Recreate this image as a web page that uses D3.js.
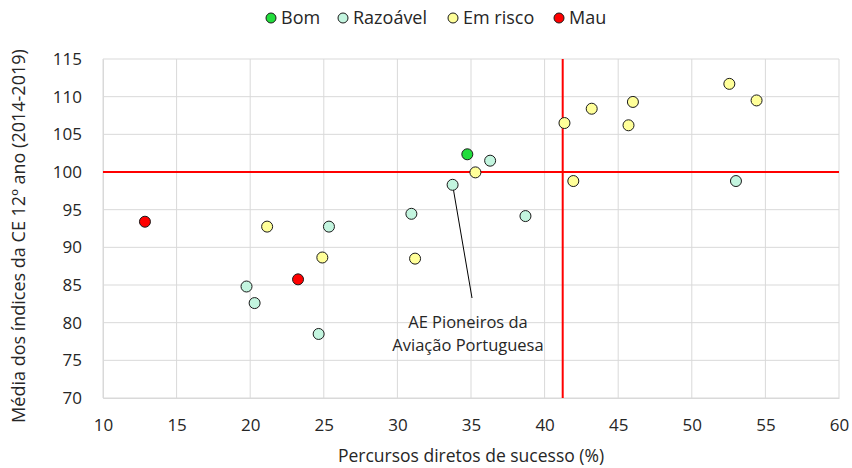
<!DOCTYPE html>
<html>
<head>
<meta charset="utf-8">
<script src="https://cdn.jsdelivr.net/npm/d3@7"></script>
<style>
    body { margin: 0; background: #fff; }
    svg text { font-family: "Open Sans", sans-serif; fill: #262626; }
</style>
</head>
<body>
<svg id="chart" width="852" height="468"></svg>
<script>
// categories and their colours
var categories = ["Bom", "Razoável", "Em risco", "Mau"];
var categoryColors = ["#22dd3c", "#c3f5df", "#ffff99", "#ff0000"];

// points per category: [percursos diretos de sucesso (%), média dos índices]
var bomPoints = [[34.75, 102.35]];
var razoavelPoints = [
    [36.3, 101.5], [33.75, 98.3], [30.95, 94.45], [25.35, 92.75], [38.7, 94.15],
    [53.0, 98.8], [19.75, 84.8], [20.3, 82.6], [24.65, 78.5]
];
var emRiscoPoints = [
    [21.15, 92.75], [24.9, 88.65], [31.2, 88.5], [35.3, 99.95], [41.35, 106.5],
    [41.95, 98.8], [43.2, 108.4], [46.0, 109.3], [45.7, 106.2], [52.55, 111.7], [54.4, 109.5]
];
var mauPoints = [[12.85, 93.4], [23.25, 85.75]];

var refX = 41.23;
var refY = 100;

var xTicks = [10, 15, 20, 25, 30, 35, 40, 45, 50, 55, 60];
var yTicks = [70, 75, 80, 85, 90, 95, 100, 105, 110, 115];

var annotationLines = ["AE Pioneiros da", "Aviação Portuguesa"];
var annotatedPoint = [33.75, 98.3];

var svg = d3.select("#chart");

var x = d3.scaleLinear().domain([10, 60]).range([103, 839]);
var y = d3.scaleLinear().domain([70, 115]).range([398, 59]);

// grid
var grid = svg.append("g").attr("class", "grid");
grid.selectAll("line.vx")
    .data(xTicks)
    .enter()
    .append("line")
    .attr("x1", function (d) { return x(d); })
    .attr("x2", function (d) { return x(d); })
    .attr("y1", y(115))
    .attr("y2", y(70))
    .attr("stroke", "#d9d9d9")
    .attr("stroke-width", 1);
grid.selectAll("line.hy")
    .data(yTicks)
    .enter()
    .append("line")
    .attr("x1", x(10))
    .attr("x2", x(60))
    .attr("y1", function (d) { return y(d); })
    .attr("y2", function (d) { return y(d); })
    .attr("stroke", "#d9d9d9")
    .attr("stroke-width", 1);

// axes
var xAxis = svg.append("g")
    .attr("transform", "translate(0," + y(70) + ")")
    .call(d3.axisBottom(x).tickValues(xTicks).tickSize(0).tickPadding(21));
var yAxis = svg.append("g")
    .attr("transform", "translate(" + x(10) + ",0)")
    .call(d3.axisLeft(y).tickValues(yTicks).tickSize(0).tickPadding(21));
[xAxis, yAxis].forEach(function (a) {
    a.select(".domain").attr("stroke", "#d9d9d9");
    a.selectAll("text").attr("font-size", 17).attr("fill", "#262626")
        .style("font-family", "'Open Sans', sans-serif");
});

// reference lines
svg.append("line")
    .attr("x1", x(10)).attr("x2", x(60))
    .attr("y1", y(refY)).attr("y2", y(refY))
    .attr("stroke", "#ff0000").attr("stroke-width", 2);
svg.append("line")
    .attr("x1", x(refX)).attr("x2", x(refX))
    .attr("y1", y(115)).attr("y2", y(70))
    .attr("stroke", "#ff0000").attr("stroke-width", 2);

// annotation
svg.append("line")
    .attr("x1", x(annotatedPoint[0])).attr("y1", y(annotatedPoint[1]))
    .attr("x2", 472).attr("y2", 298)
    .attr("stroke", "#000").attr("stroke-width", 1);
svg.append("text")
    .attr("x", 468).attr("y", 328)
    .attr("text-anchor", "middle")
    .attr("font-size", 16.5)
    .selectAll("tspan")
    .data(annotationLines)
    .enter()
    .append("tspan")
    .attr("x", 468)
    .attr("dy", function (d, i) { return i === 0 ? 0 : 23; })
    .text(function (d) { return d; });

// points
var series = [bomPoints, razoavelPoints, emRiscoPoints, mauPoints];
series.forEach(function (pts, i) {
    svg.append("g")
        .selectAll("circle")
        .data(pts)
        .enter()
        .append("circle")
        .attr("cx", function (d) { return x(d[0]); })
        .attr("cy", function (d) { return y(d[1]); })
        .attr("r", 5.5)
        .attr("fill", categoryColors[i])
        .attr("stroke", "#1a1a1a")
        .attr("stroke-width", 1);
});

// legend
var legendX = [271, 343, 453, 559];
var legend = svg.append("g")
    .selectAll("g")
    .data(categories)
    .enter()
    .append("g")
    .attr("transform", function (d, i) { return "translate(" + legendX[i] + ",18)"; });
legend.append("circle")
    .attr("r", 5)
    .attr("fill", function (d, i) { return categoryColors[i]; })
    .attr("stroke", "#1a1a1a")
    .attr("stroke-width", 1);
legend.append("text")
    .attr("x", 10)
    .attr("dy", "0.35em")
    .attr("font-size", 18)
    .text(function (d) { return d; });

// axis titles
svg.append("text")
    .attr("x", x(35))
    .attr("y", 462)
    .attr("text-anchor", "middle")
    .attr("font-size", 17.5)
    .text("Percursos diretos de sucesso (%)");
svg.append("text")
    .attr("transform", "translate(25," + y(91.5) + ") rotate(-90)")
    .attr("text-anchor", "middle")
    .attr("font-size", 18)
    .text("Média dos índices da CE 12º ano (2014-2019)");
</script>
</body>
</html>
